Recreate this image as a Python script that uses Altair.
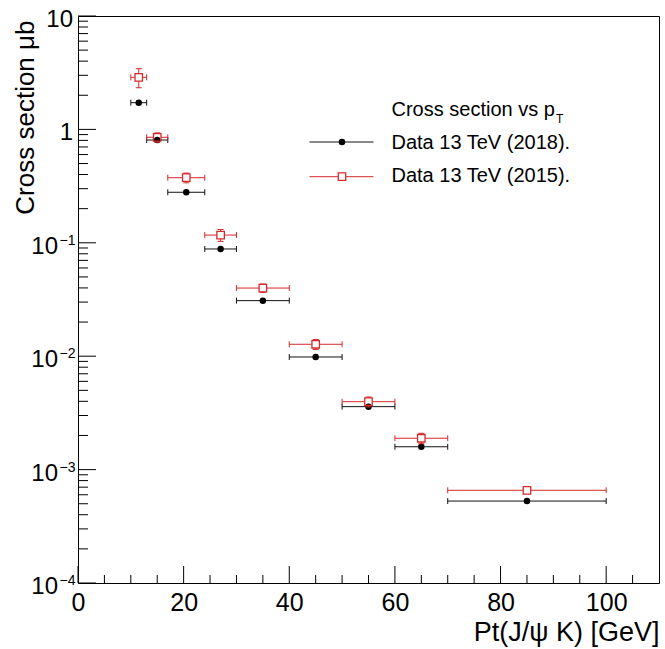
import altair as alt
import pandas as pd
import numpy as np

# ---------------- data ----------------
pt_lo = [10, 13, 17, 24, 30, 40, 50, 60, 70]
pt_hi = [13, 17, 24, 30, 40, 50, 60, 70, 100]
pt_mid = [11.5, 15, 20.5, 27, 35, 45, 55, 65, 85]
xs_2018 = [1.72, 0.806, 0.279, 0.0882, 0.0309, 0.00984, 0.00359, 0.00159, 0.000528]
xs_2015 = [2.88, 0.852, 0.375, 0.117, 0.0399, 0.01274, 0.00397, 0.00189, 0.000657]
err_2015 = [0.55, 0.08, 0.037, 0.014, 0.0034, 0.0013, 0.0004, 0.0002, 0.00003]

series_names = ["Data 13 TeV (2018).", "Data 13 TeV (2015)."]
legend_title = "Cross section vs p"
legend_title_sub = "T"
x_title = "Pt(J/\u03c8 K) [GeV]"
y_title = "Cross section \u03bcb"
x_tick_labels = [0, 20, 40, 60, 80, 100]
y_decades = [10, 1, 0.1, 0.01, 0.001, 0.0001]
y_label_base = ["10", "1", "10", "10", "10", "10"]
y_label_exp = ["", "", "\u22121", "\u22122", "\u22123", "\u22124"]

# ---------------- styling ----------------
W, H = 581, 567
RED = "#d42a2a"
BLK = "#111111"
FONT = "Liberation Sans"

x_major = x_tick_labels
x_minor = [v for v in range(5, 110, 5) if v not in x_major]
y_minor = [k * d for d in y_decades[1:] for k in range(2, 10)]

df18 = pd.DataFrame({"lo": pt_lo, "hi": pt_hi, "x": pt_mid, "y": xs_2018})
df15 = pd.DataFrame({"lo": pt_lo, "hi": pt_hi, "x": pt_mid, "y": xs_2015, "e": err_2015})
df15["ylo"] = df15["y"] - df15["e"]
df15["yhi"] = df15["y"] + df15["e"]
df15_err = df15[np.log10(df15["yhi"] / df15["y"]) > 0.035]

xscale = alt.Scale(domain=[0, 110], nice=False, zero=False)
yscale = alt.Scale(type="log", domain=[1e-4, 10], nice=False)

xaxis = alt.Axis(values=x_tick_labels, format="d", labelFont=FONT, labelFontSize=25,
                 labelColor="black", labelPadding=7, labelFlush=False, labelOverlap=False,
                 ticks=False, tickSize=0, domain=False, grid=False,
                 title=x_title, titleFont=FONT, titleFontSize=27, titleFontWeight="normal",
                 titleColor="black", titleX=W, titleY=57, titleAlign="right",
                 titleBaseline="alphabetic", titleAnchor="end")
yaxis = alt.Axis(labels=False, ticks=False, tickSize=0, domain=False, grid=False,
                 title=y_title, titleFont=FONT, titleFontSize=26, titleFontWeight="normal",
                 titleColor="black", titleAngle=270, titleAlign="right",
                 titleBaseline="alphabetic", titleX=-45, titleY=4)


def X(f):
    return alt.X(f, type="quantitative", scale=xscale, axis=xaxis)


def Y(f):
    return alt.Y(f, type="quantitative", scale=yscale, axis=yaxis)


layers = []

# inward ticks
layers.append(alt.Chart(pd.DataFrame({"v": x_major})).mark_rule(color="black", strokeWidth=1)
              .encode(x=X("v"), y=alt.value(H), y2=alt.value(H - 17)))
layers.append(alt.Chart(pd.DataFrame({"v": x_minor})).mark_rule(color="black", strokeWidth=1)
              .encode(x=X("v"), y=alt.value(H), y2=alt.value(H - 8)))
layers.append(alt.Chart(pd.DataFrame({"v": y_decades})).mark_rule(color="black", strokeWidth=1)
              .encode(y=Y("v"), x=alt.value(0), x2=alt.value(18)))
layers.append(alt.Chart(pd.DataFrame({"v": y_minor})).mark_rule(color="black", strokeWidth=1)
              .encode(y=Y("v"), x=alt.value(0), x2=alt.value(10)))

# 2018 series (black)
c18 = alt.Chart(df18)
layers.append(c18.mark_rule(color=BLK, strokeWidth=1).encode(x=X("lo"), x2=alt.X2("hi"), y=Y("y")))
layers.append(c18.mark_rule(color=BLK, strokeWidth=1, yOffset=-3, y2Offset=3)
              .encode(x=X("lo"), y=Y("y"), y2=alt.Y2("y")))
layers.append(c18.mark_rule(color=BLK, strokeWidth=1, yOffset=-3, y2Offset=3)
              .encode(x=X("hi"), y=Y("y"), y2=alt.Y2("y")))
layers.append(c18.mark_point(shape="circle", filled=True, size=42, color="black", opacity=1)
              .encode(x=X("x"), y=Y("y")))

# 2015 series (red)
c15 = alt.Chart(df15)
c15e = alt.Chart(df15_err)
layers.append(c15.mark_rule(color=RED, strokeWidth=1, x2Offset=-4)
              .encode(x=X("lo"), x2=alt.X2("x"), y=Y("y")))
layers.append(c15.mark_rule(color=RED, strokeWidth=1, xOffset=4)
              .encode(x=X("x"), x2=alt.X2("hi"), y=Y("y")))
layers.append(c15.mark_rule(color=RED, strokeWidth=1, yOffset=-3, y2Offset=3)
              .encode(x=X("lo"), y=Y("y"), y2=alt.Y2("y")))
layers.append(c15.mark_rule(color=RED, strokeWidth=1, yOffset=-3, y2Offset=3)
              .encode(x=X("hi"), y=Y("y"), y2=alt.Y2("y")))
layers.append(c15e.mark_rule(color=RED, strokeWidth=1, y2Offset=4)
              .encode(x=X("x"), y=Y("ylo"), y2=alt.Y2("y")))
layers.append(c15e.mark_rule(color=RED, strokeWidth=1, yOffset=-4)
              .encode(x=X("x"), y=Y("y"), y2=alt.Y2("yhi")))
layers.append(c15e.mark_rule(color=RED, strokeWidth=1, xOffset=-3, x2Offset=3)
              .encode(x=X("x"), x2=alt.X2("x"), y=Y("ylo")))
layers.append(c15e.mark_rule(color=RED, strokeWidth=1, xOffset=-3, x2Offset=3)
              .encode(x=X("x"), x2=alt.X2("x"), y=Y("yhi")))
layers.append(c15.mark_point(shape="square", filled=False, size=56, color=RED, strokeWidth=1.3,
                             opacity=1)
              .encode(x=X("x"), y=Y("y")))

# y tick labels (10 with superscript exponent)
ylab = pd.DataFrame({"v": y_decades, "base": y_label_base, "exp": y_label_exp})
plain = ylab[ylab["exp"] == ""]
powr = ylab[ylab["exp"] != ""]
layers.append(alt.Chart(plain).mark_text(font=FONT, fontSize=24, align="right",
                                         baseline="alphabetic", dy=11, color="black")
              .encode(y=Y("v"), x=alt.value(-5), text="base:N"))
layers.append(alt.Chart(powr).mark_text(font=FONT, fontSize=24, align="right",
                                        baseline="alphabetic", dy=11, color="black")
              .encode(y=Y("v"), x=alt.value(-20), text="base:N"))
layers.append(alt.Chart(powr).mark_text(font=FONT, fontSize=14, align="left",
                                        baseline="alphabetic", dy=2, color="black")
              .encode(y=Y("v"), x=alt.value(-18.5), text="exp:N"))

# legend
leg_t = pd.DataFrame({"t": [legend_title], "s": [legend_title_sub]})
layers.append(alt.Chart(leg_t).mark_text(font=FONT, fontSize=20, align="left",
                                         baseline="alphabetic", color="black")
              .encode(x=alt.value(313.5), y=alt.value(100), text="t:N"))
layers.append(alt.Chart(leg_t).mark_text(font=FONT, fontSize=12, align="left",
                                         baseline="alphabetic", color="black")
              .encode(x=alt.value(478), y=alt.value(107), text="s:N"))

leg1 = pd.DataFrame({"label": [series_names[0]]})
leg2 = pd.DataFrame({"label": [series_names[1]]})
layers.append(alt.Chart(leg1).mark_rule(color=BLK, strokeWidth=1)
              .encode(x=alt.value(231.5), x2=alt.value(295.5), y=alt.value(126)))
layers.append(alt.Chart(leg1).mark_point(shape="circle", filled=True, size=42, color="black",
                                         opacity=1)
              .encode(x=alt.value(264), y=alt.value(126)))
layers.append(alt.Chart(leg1).mark_text(font=FONT, fontSize=20, align="left",
                                        baseline="alphabetic", color="black")
              .encode(x=alt.value(313.5), y=alt.value(132.5), text="label:N"))
layers.append(alt.Chart(leg2).mark_rule(color=RED, strokeWidth=1)
              .encode(x=alt.value(231.5), x2=alt.value(260.2), y=alt.value(160.7)))
layers.append(alt.Chart(leg2).mark_rule(color=RED, strokeWidth=1)
              .encode(x=alt.value(267.8), x2=alt.value(295.5), y=alt.value(160.7)))
layers.append(alt.Chart(leg2).mark_point(shape="square", filled=False, size=56, color=RED,
                                         strokeWidth=1.3, opacity=1)
              .encode(x=alt.value(264), y=alt.value(160.7)))
layers.append(alt.Chart(leg2).mark_text(font=FONT, fontSize=20, align="left",
                                        baseline="alphabetic", color="black")
              .encode(x=alt.value(313.5), y=alt.value(165.5), text="label:N"))

chart = (
    alt.layer(*layers)
    .properties(width=W, height=H, autosize=alt.AutoSizeParams(type="none"),
                padding={"left": 78, "top": 16, "right": 6, "bottom": 66},
                background="white")
    .configure_view(stroke="black", strokeWidth=1)
)

chart.save("out.html", embed_options={"renderer": "svg", "actions": False})
